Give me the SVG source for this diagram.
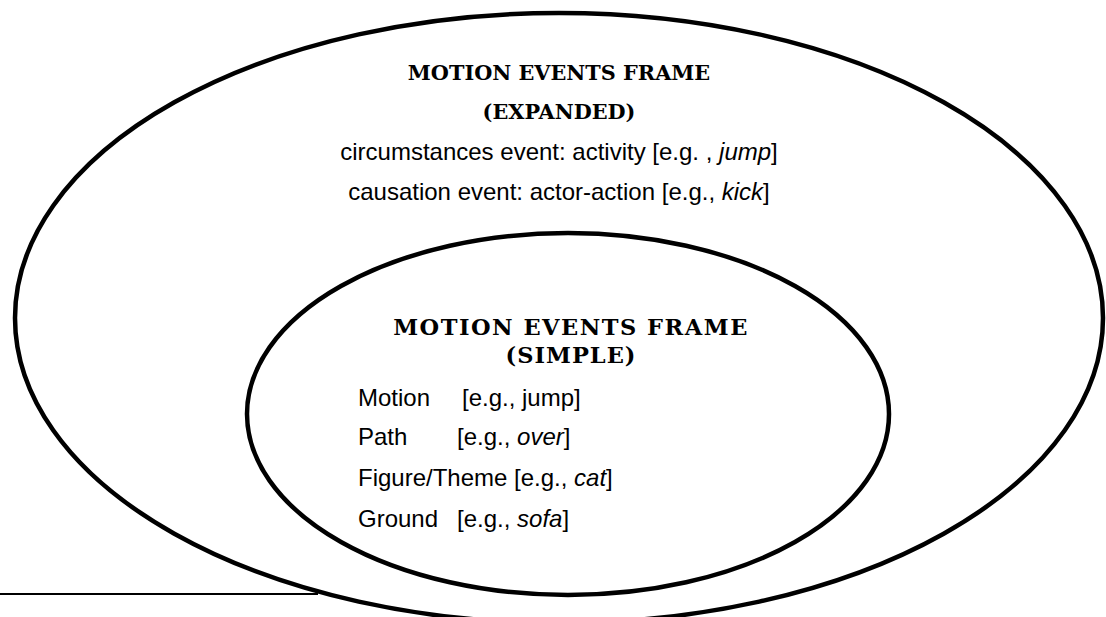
<svg xmlns="http://www.w3.org/2000/svg" width="1106" height="617" viewBox="0 0 1106 617">
<style>
.shape{fill:none;stroke:#000;stroke-width:4.5}
.title{font-family:"DejaVu Serif","Liberation Serif",serif;font-weight:bold;fill:#000;text-anchor:middle}
.body{font-family:"Liberation Sans",Arial,sans-serif;font-size:24px;fill:#000}
.c{text-anchor:middle}
</style>
<rect width="1106" height="617" fill="#fff"/>
<g id="connectors">
<line x1="0" y1="594" x2="318" y2="594" stroke="#000" stroke-width="2"/>
</g>
<g id="outer-frame">
<ellipse class="shape" cx="559" cy="318" rx="544" ry="305"/>
<text class="title" x="559" y="80" font-size="20.8">MOTION EVENTS FRAME</text>
<text class="title" x="559" y="119" font-size="20.8">(EXPANDED)</text>
<text class="body c" x="559" y="160">circumstances event: activity [e.g. , <tspan font-style="italic">jump</tspan>]</text>
<text class="body c" x="559" y="200">causation event: actor-action [e.g., <tspan font-style="italic">kick</tspan>]</text>
</g>
<g id="inner-frame">
<ellipse class="shape" cx="568" cy="414" rx="321" ry="181"/>
<text class="title" x="571" y="335" font-size="22.5" letter-spacing="1.5">MOTION EVENTS FRAME</text>
<text class="title" x="571" y="363" font-size="22.5" letter-spacing="1">(SIMPLE)</text>
<text class="body" x="358" y="406">Motion</text>
<text class="body" x="462" y="406">[e.g., jump]</text>
<text class="body" x="358" y="445">Path</text>
<text class="body" x="457" y="445">[e.g., <tspan font-style="italic">over</tspan>]</text>
<text class="body" x="358" y="486">Figure/Theme [e.g., <tspan font-style="italic">cat</tspan>]</text>
<text class="body" x="358" y="527">Ground</text>
<text class="body" x="457" y="527">[e.g., <tspan font-style="italic">sofa</tspan>]</text>
</g>
</svg>
